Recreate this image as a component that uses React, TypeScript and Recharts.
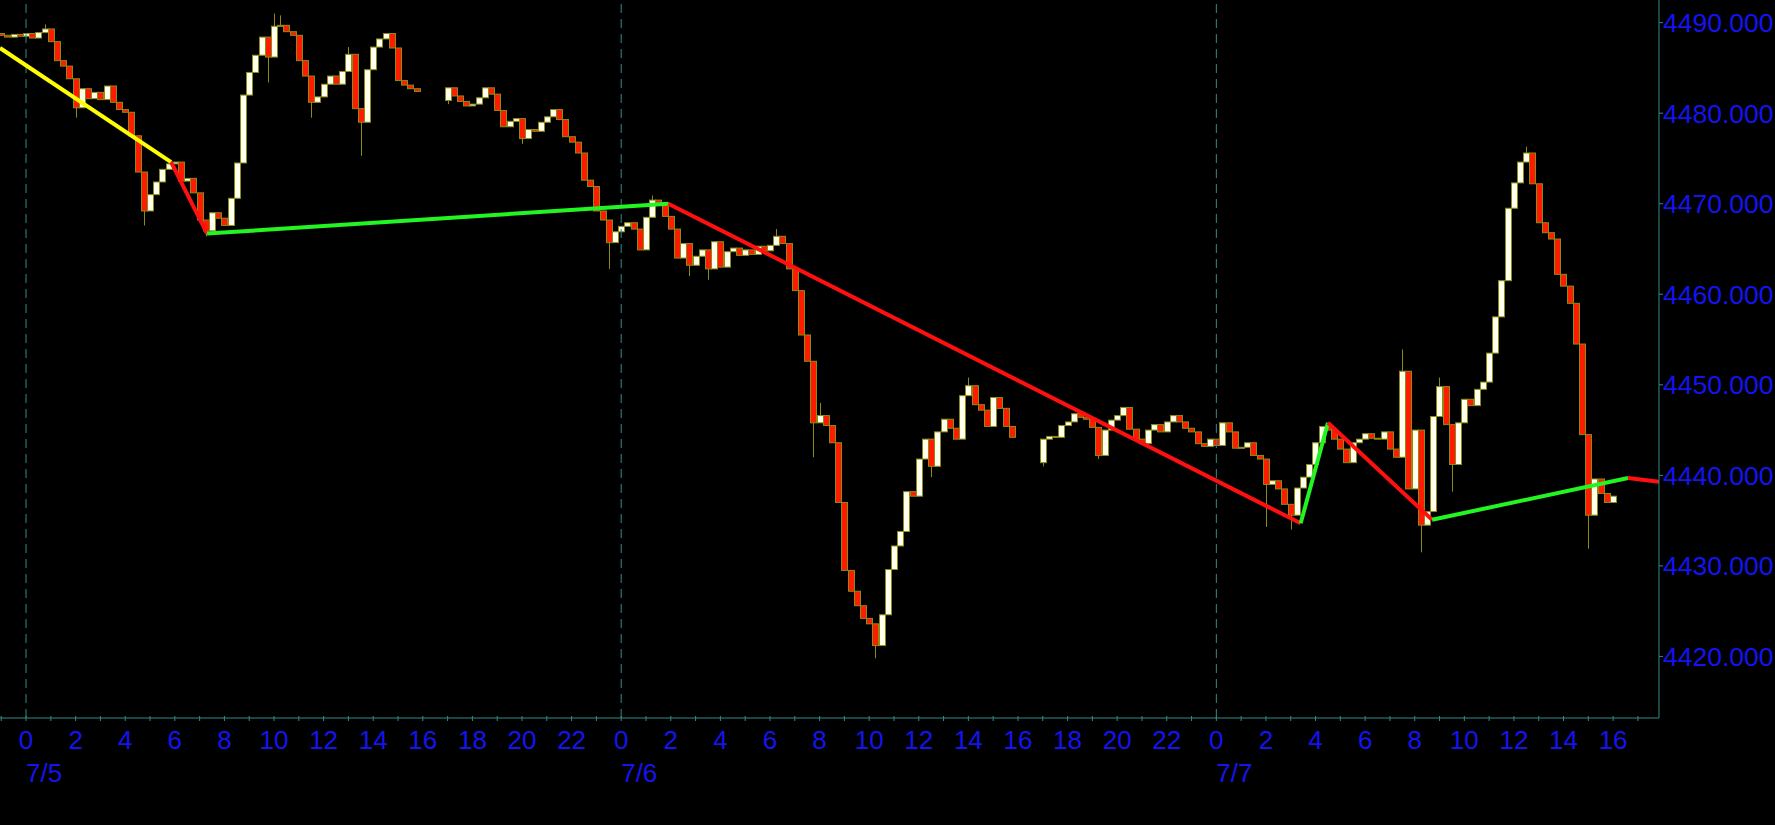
import React from 'react';
import { ComposedChart, Bar, Line, XAxis, YAxis, ReferenceLine } from 'recharts';

// three trading sessions, 15-minute candles; t = hours from 7/5 00:00
const sessionStarts = [-1, 17, 41];
const sessionOpens = [4488.8, 4481.4, 4441.4];

const closesA = [
  4488.6, 4488.4, 4488.7, 4488.5,
  4488.8, 4488.3, 4488.9, 4489.3,
  4487.9, 4485.8, 4485.2, 4483.8,
  4480.6, 4482.7, 4481.6, 4482.3,
  4481.5, 4483.0, 4481.2, 4480.4,
  4480.1, 4477.5, 4473.5, 4469.2,
  4471.0, 4472.4, 4473.8, 4474.4,
  4474.6, 4472.5, 4472.8, 4471.2,
  4468.2, 4467.0, 4469.0, 4468.4,
  4467.6, 4470.6, 4474.5, 4482.0,
  4484.5, 4486.4, 4488.4, 4486.2,
  4489.6, 4489.7, 4489.0, 4488.6,
  4485.8, 4484.1, 4481.2, 4481.8,
  4483.2, 4484.1, 4483.2, 4484.6,
  4486.5, 4480.5, 4479.0, 4484.8,
  4487.3, 4488.2, 4488.8, 4487.2,
  4483.6, 4483.1, 4482.7, 4482.4,
];

const closesB = [
  4482.8, 4481.9, 4481.3, 4480.8,
  4481.0, 4481.7, 4482.8, 4482.1,
  4480.3, 4478.5, 4479.1, 4479.4,
  4477.2, 4478.2, 4478.0, 4479.0,
  4479.6, 4480.4, 4479.3, 4477.4,
  4476.8, 4475.6, 4472.6, 4471.9,
  4469.2, 4468.2, 4465.7, 4466.9,
  4467.5, 4467.9, 4467.2, 4464.9,
  4468.5, 4470.4, 4470.1, 4468.6,
  4467.2, 4464.0, 4465.6, 4463.2,
  4464.2, 4464.9, 4462.8, 4465.8,
  4463.0, 4464.7, 4465.1, 4464.3,
  4464.9, 4464.4, 4465.3, 4464.8,
  4465.4, 4466.4, 4465.6, 4462.8,
  4460.4, 4455.5, 4452.6, 4445.8,
  4446.6, 4445.5, 4443.6, 4437.0,
  4429.5, 4427.2, 4425.6, 4424.2,
  4423.6, 4421.2, 4424.6, 4429.6,
  4432.2, 4433.8, 4438.2, 4437.7,
  4441.8, 4444.0, 4441.0, 4444.8,
  4446.2, 4445.2, 4444.0, 4448.8,
  4449.9, 4447.8, 4447.2, 4445.4,
  4448.6, 4447.4, 4445.4, 4444.2,
];

const closesC = [
  4444.0, 4444.3, 4444.2, 4445.5,
  4445.9, 4446.8, 4446.4, 4446.2,
  4445.3, 4442.2, 4445.0, 4446.1,
  4446.6, 4447.5, 4445.1, 4444.0,
  4443.5, 4445.0, 4445.6, 4444.8,
  4445.9, 4446.6, 4445.9, 4445.2,
  4444.8, 4443.5, 4443.2, 4444.0,
  4443.3, 4445.8, 4444.8, 4443.0,
  4443.1, 4443.6, 4442.2, 4441.8,
  4439.0, 4439.4, 4438.5, 4436.8,
  4435.6, 4438.6, 4439.8, 4441.2,
  4443.6, 4445.4, 4445.0, 4444.0,
  4442.9, 4441.4, 4443.6, 4444.0,
  4444.6, 4444.1, 4444.0, 4444.8,
  4442.9, 4442.0, 4451.5, 4438.5,
  4445.0, 4434.5, 4436.0, 4446.5,
  4449.8, 4445.6, 4441.2, 4445.8,
  4448.4, 4447.7, 4449.5, 4450.3,
  4453.5, 4457.5, 4461.5, 4469.5,
  4472.3, 4474.6, 4475.6, 4472.2,
  4467.9, 4466.8, 4466.1, 4462.2,
  4460.9, 4459.0, 4454.5, 4444.5,
  4435.6, 4439.6, 4438.0, 4437.0,
  4437.7,
];

// wicks that reach past the body
const wicks: { t: number; high?: number; low?: number }[] = [
  { t: 0.75, high: 4489.8 }, { t: 2, low: 4479.5 }, { t: 4.75, low: 4467.6 },
  { t: 7.25, low: 4466.4 }, { t: 8.75, low: 4479.0 }, { t: 9.75, low: 4483.4 },
  { t: 10, high: 4491.0 }, { t: 10.25, high: 4490.8 }, { t: 11.5, low: 4479.5 },
  { t: 13, high: 4487.3 }, { t: 13.5, low: 4475.3 },
  { t: 17, low: 4481.0 }, { t: 20, low: 4476.6 }, { t: 23.5, low: 4462.8 },
  { t: 25.25, high: 4470.9 }, { t: 26.75, low: 4462.0 }, { t: 27.5, low: 4461.6 },
  { t: 30.25, high: 4467.2 }, { t: 31.75, low: 4442.0 }, { t: 32, high: 4448.0 },
  { t: 34.25, low: 4419.8 }, { t: 36.5, low: 4439.8 }, { t: 38, high: 4450.8 },
  { t: 41, low: 4441.0 }, { t: 43.25, low: 4441.8 }, { t: 50, low: 4434.3 },
  { t: 51, low: 4434.0 }, { t: 55.5, high: 4453.9 }, { t: 56.25, low: 4431.5 },
  { t: 57, high: 4450.8 }, { t: 57.5, low: 4438.2 }, { t: 60.5, high: 4476.3 },
  { t: 63, low: 4431.9 },
];

// zigzag trend line turning points
const zigzagT = [-1.05, 5.85, 7.3, 25.9, 51.4, 52.5, 56.7, 64.6, 65.85];
const zigzagP = [4487.2, 4474.6, 4466.7, 4470.0, 4434.7, 4445.8, 4435.1, 4439.7, 4439.3];
const zigzagColors = ['#ffff00', '#ff1010', '#22f522', '#ff1010', '#22f522', '#ff1010', '#22f522', '#ff1010'];

const priceTicks = [4420, 4430, 4440, 4450, 4460, 4470, 4480, 4490];
const dayStarts = [0, 24, 48];
const dayLabels = ['7/5', '7/6', '7/7'];

const AXIS = '#348a8a';
const OLIVE = '#8c8c14';
const BLUE = '#1414f0';
const FONT = "'Liberation Sans', Arial, sans-serif";

const candles = [closesA, closesB, closesC].flatMap((closes, s) => {
  let open = sessionOpens[s];
  return closes.map((close, i) => {
    const t = sessionStarts[s] + i * 0.25;
    const w = wicks.find((k) => Math.abs(k.t - t) < 1e-6);
    const high = Math.max(open, close, w?.high ?? -Infinity);
    const low = Math.min(open, close, w?.low ?? Infinity);
    const c = { t, open, close, high, low, range: [low, high] };
    open = close;
    return c;
  });
});

const hourTicks: number[] = [];
for (let h = -1; h <= 65; h++) hourTicks.push(h);

const Candle = (props: any) => {
  const { x, y, width, height, payload } = props;
  if (x == null || !payload) return null;
  const { open, close, high, low } = payload;
  const top = Math.min(y, y + height);
  const h = Math.abs(height);
  const k = high > low ? h / (high - low) : 0;
  const py = (v: number) => top + (high - v) * k;
  const cx = Math.round(x + width / 2) + 0.5;
  const bodyTop = py(Math.max(open, close));
  const bodyH = Math.max(py(Math.min(open, close)) - bodyTop, 1);
  const up = close >= open;
  return (
    <g>
      <line x1={cx} x2={cx} y1={top} y2={top + h} stroke={OLIVE} strokeWidth={1} />
      <rect
        x={cx - 3}
        y={bodyTop}
        width={6}
        height={bodyH}
        fill={up ? '#fffff0' : '#ff1a00'}
        stroke={OLIVE}
        strokeWidth={1}
      />
    </g>
  );
};

const HourTick = (props: any) => {
  const { x, y, payload } = props;
  const t = payload.value as number;
  const hour = ((t % 24) + 24) % 24;
  const day = dayStarts.indexOf(t);
  return (
    <g>
      <line x1={x} x2={x} y1={y - 2} y2={y + 3} stroke={AXIS} strokeWidth={1} />
      {hour % 2 === 0 && (
        <text x={x} y={y + 31} textAnchor="middle" fill={BLUE} fontSize={26} fontFamily={FONT}>
          {hour}
        </text>
      )}
      {day >= 0 && (
        <text x={x} y={y + 64} textAnchor="start" fill={BLUE} fontSize={26} fontFamily={FONT}>
          {dayLabels[day]}
        </text>
      )}
    </g>
  );
};

const PriceTick = (props: any) => {
  const { x, y, payload } = props;
  return (
    <g>
      <line x1={x} x2={x + 4} y1={y} y2={y} stroke={AXIS} strokeWidth={1} />
      <text x={x + 4} y={y + 9.5} textAnchor="start" fill={BLUE} fontSize={26.5} fontFamily={FONT}>
        {(payload.value as number).toFixed(3)}
      </text>
    </g>
  );
};

export default function App() {
  return (
    <div style={{ position: 'fixed', left: 0, top: 0, width: 1775, height: 825, background: '#000', overflow: 'hidden' }}>
      <ComposedChart width={1775} height={825} data={candles} margin={{ top: 0, right: 0, bottom: 0, left: 0 }}>
        <XAxis
          dataKey="t"
          type="number"
          domain={[-1.05, 65.85]}
          allowDataOverflow
          ticks={hourTicks}
          interval={0}
          height={107}
          tickLine={false}
          tickSize={0}
          tickMargin={0}
          tick={<HourTick />}
          axisLine={{ stroke: AXIS }}
        />
        <YAxis
          orientation="right"
          type="number"
          domain={[4413.2, 4492.5]}
          allowDataOverflow
          ticks={priceTicks}
          interval={0}
          width={116}
          tickLine={false}
          tickSize={0}
          tickMargin={0}
          tick={<PriceTick />}
          axisLine={{ stroke: AXIS }}
        />
        {dayStarts.map((d) => (
          <ReferenceLine key={d} x={d} stroke={AXIS} strokeDasharray="9 6" />
        ))}
        <Bar dataKey="range" barSize={6} shape={<Candle />} isAnimationActive={false} />
        {zigzagColors.map((color, i) => (
          <Line
            key={i}
            data={[
              { t: zigzagT[i], p: zigzagP[i] },
              { t: zigzagT[i + 1], p: zigzagP[i + 1] },
            ]}
            dataKey="p"
            type="linear"
            stroke={color}
            strokeWidth={4}
            dot={false}
            activeDot={false}
            isAnimationActive={false}
          />
        ))}
      </ComposedChart>
    </div>
  );
}
